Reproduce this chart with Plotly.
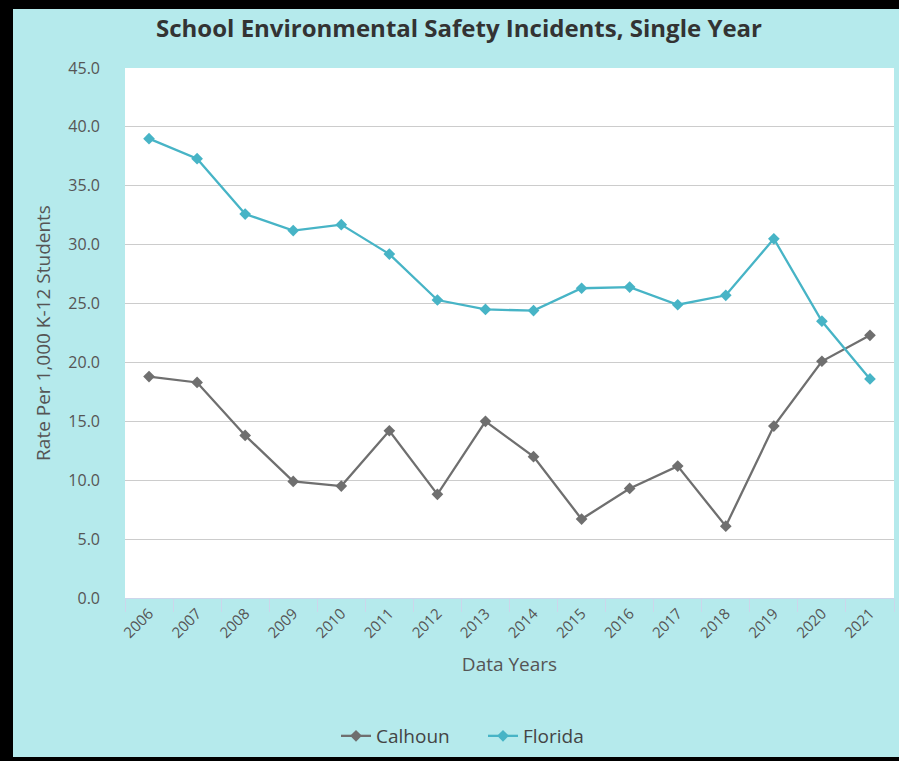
import plotly.graph_objects as go

years = [str(y) for y in range(2006, 2022)]
calhoun = [18.8, 18.3, 13.8, 9.9, 9.5, 14.2, 8.8, 15.0, 12.0, 6.7, 9.3, 11.2, 6.1, 14.6, 20.1, 22.3]
florida = [39.0, 37.3, 32.6, 31.2, 31.7, 29.2, 25.3, 24.5, 24.4, 26.3, 26.4, 24.9, 25.7, 30.5, 23.5, 18.6]

W, H = 899, 761
L, R, T, B = 125, 5, 68, 163
pw, ph = W - L - R, H - T - B

def px(x):
    return (x - L) / pw

def py(y):
    return (H - B - y) / ph

font = "Open Sans, Noto Sans, sans-serif"

fig = go.Figure()
fig.add_trace(go.Scatter(x=years, y=calhoun, name="Calhoun", mode="lines+markers",
                         line=dict(color="#6f6f6f", width=2.3),
                         marker=dict(symbol="diamond", size=9, color="#6f6f6f")))
fig.add_trace(go.Scatter(x=years, y=florida, name="Florida", mode="lines+markers",
                         line=dict(color="#47b4c6", width=2.3),
                         marker=dict(symbol="diamond", size=9, color="#47b4c6")))

bg = "#b5eaec"
shapes = [
    dict(type="rect", xref="paper", yref="paper", x0=px(0), x1=px(13), y0=py(H), y1=py(0),
         fillcolor="black", line=dict(width=0), layer="above"),
    dict(type="rect", xref="paper", yref="paper", x0=px(0), x1=px(W), y0=py(9), y1=py(0),
         fillcolor="black", line=dict(width=0), layer="above"),
    dict(type="rect", xref="paper", yref="paper", x0=px(0), x1=px(W), y0=py(H), y1=py(757),
         fillcolor="black", line=dict(width=0), layer="above"),
]

fig.update_layout(
    width=W, height=H,
    margin=dict(l=L, r=R, t=T, b=B, autoexpand=False),
    paper_bgcolor=bg, plot_bgcolor="white",
    font=dict(family=font, color="#555555"),
    title=dict(text="<b>School Environmental Safety Incidents, Single Year</b>",
               x=459 / W, xanchor="center", xref="container",
               y=1 - 29 / H, yanchor="middle", yref="container",
               font=dict(size=24, color="#333333", family=font)),
    showlegend=True,
    legend=dict(orientation="h", x=px(483), xanchor="center", y=py(736), yanchor="middle",
                font=dict(size=19, color="#444444"), bgcolor="rgba(0,0,0,0)",
                entrywidth=102, entrywidthmode="pixels"),
    shapes=shapes,
)
fig.update_xaxes(type="category", tickson="boundaries", ticks="outside", ticklen=13,
                 tickcolor="#ccd6eb", tickwidth=1, showline=True, linecolor="#ccd6eb", linewidth=1,
                 showgrid=False, tickangle=-45, tickfont=dict(size=15, color="#555555"),
                 title=dict(text="Data Years", font=dict(size=19, color="#555555"), standoff=16),
                 range=[-0.5, 15.5])
fig.update_yaxes(range=[0, 45], dtick=5, tickformat=".1f", showgrid=True, gridcolor="#cccccc",
                 gridwidth=1, zeroline=False, showline=False, ticks="",
                 ticklabelstandoff=24, tickfont=dict(size=16, color="#555555"),
                 title=dict(text="Rate Per 1,000 K-12 Students", font=dict(size=19, color="#555555"),
                            standoff=12))

fig.write_html("out.html", config={"displayModeBar": False},
               post_script=["document.body.style.margin='0';document.body.style.overflow='hidden';"])
